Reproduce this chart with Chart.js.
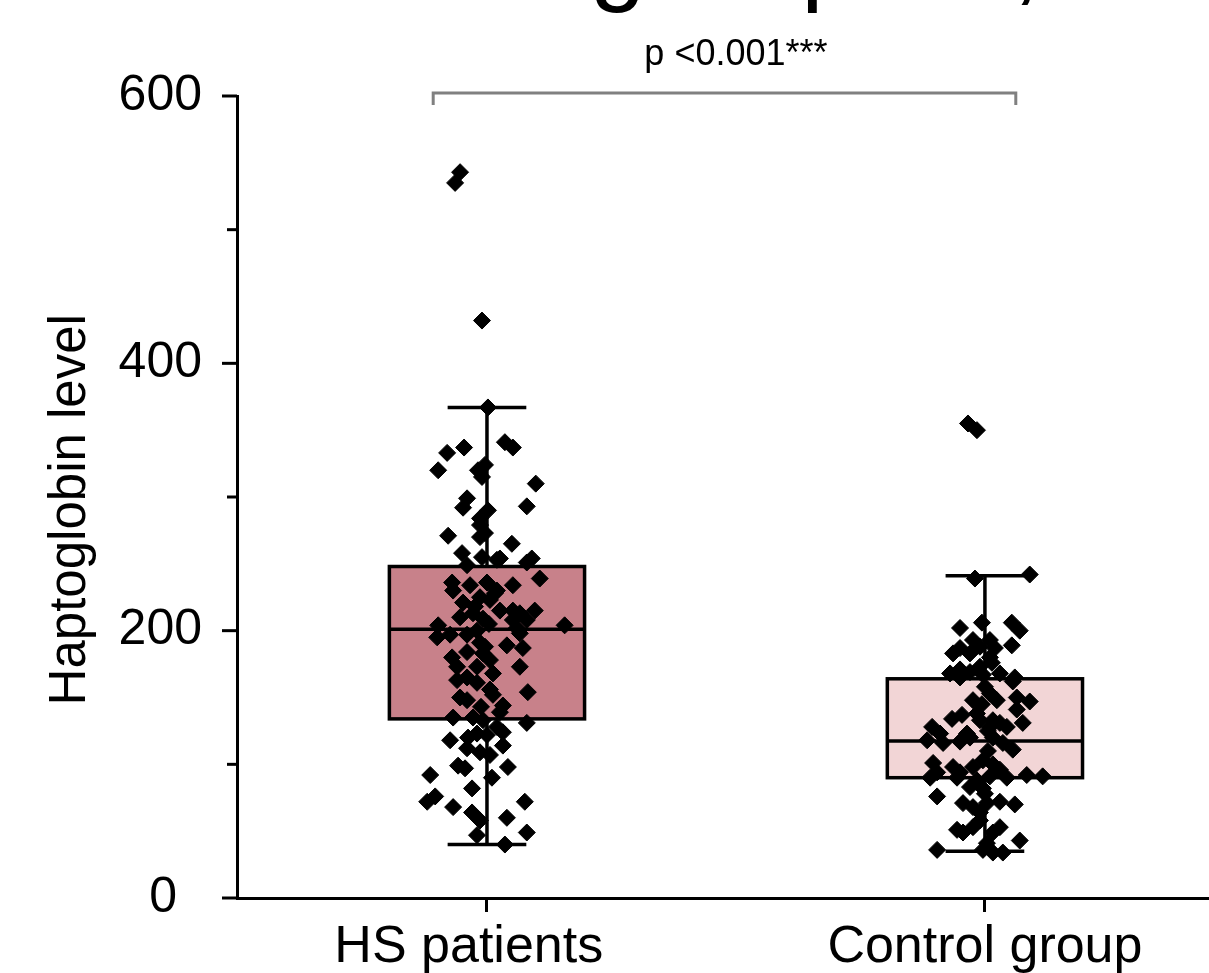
<!DOCTYPE html>
<html>
<head>
<meta charset="utf-8">
<script src="https://cdn.jsdelivr.net/npm/chart.js@4.4.1/dist/chart.umd.min.js"></script>
<style>
  html, body { margin: 0; padding: 0; background: #fff; overflow: hidden; }
  #wrap { width: 1209px; height: 973px; position: relative; }
</style>
</head>
<body>
<div id="wrap"><canvas id="chart"></canvas></div>
<script>
const categories = ["HS patients", "Control group"];
const groupPos = [1, 2];
const yTicks = [0, 200, 400, 600];
const yMinorTicks = [100, 300, 500];

// min, q1, median, q3, max
const hsBox = [40, 134, 201, 248, 367];
const ctrlBox = [35, 90, 117.5, 164, 241];

const hsValues = [
  543, 535, 432, 367, 341, 337, 333, 337, 320, 320,
  324, 315, 310, 299, 292, 293, 290, 284, 279, 271,
  270, 273, 265, 258, 255, 253, 254, 254, 249, 251,
  239, 236, 230, 234, 236, 230, 234, 221, 225, 223,
  215, 215, 213, 215, 210, 213, 209, 208, 208, 204,
  195, 204, 197, 197, 200, 202, 198, 189, 187, 191,
  183, 180, 184, 173, 178, 173, 173, 165, 161, 163,
  156, 152, 154, 150, 148, 144, 139, 135, 135, 133,
  131, 128, 118, 120, 123, 122, 124, 112, 109, 114,
  107, 99, 97, 98, 92, 90, 82, 76, 72, 68,
  72, 64, 58, 60, 49, 47, 40, 205, 188, 168,
  143, 228, 218
];
const hsJitter = [
  -0.054, -0.064, -0.010, 0.002, 0.036, 0.052, -0.080, -0.046, -0.098, -0.018,
  -0.004, -0.010, 0.098, -0.040, -0.048, 0.080, 0.002, -0.014, -0.014, -0.078,
  -0.014, -0.004, 0.050, -0.050, -0.010, 0.020, 0.026, 0.090, -0.040, 0.080,
  0.106, -0.070, -0.068, -0.034, 0.000, 0.020, 0.052, -0.048, -0.014, 0.006,
  0.026, 0.052, 0.066, 0.096, -0.054, -0.028, -0.008, 0.052, 0.080, -0.098,
  -0.100, 0.156, -0.074, -0.040, -0.020, 0.060, 0.066, 0.040, 0.072, -0.014,
  -0.008, -0.070, -0.040, -0.060, 0.006, -0.020, 0.066, -0.040, -0.020, -0.060,
  0.006, 0.012, 0.082, -0.054, -0.040, 0.032, 0.026, -0.068, -0.028, -0.008,
  0.080, 0.020, -0.074, -0.038, -0.020, 0.000, 0.032, -0.040, -0.014, 0.032,
  0.006, -0.058, -0.044, 0.042, -0.114, 0.010, -0.030, -0.104, -0.120, -0.068,
  0.076, -0.030, -0.014, 0.040, 0.080, -0.020, 0.036, 0.004, -0.004, 0.012,
  -0.012, 0.016, -0.024
];

const ctrlValues = [
  355, 350, 239, 242, 202, 206, 206, 200, 183, 187,
  193, 188, 193, 187, 189, 183, 180, 168, 171, 169,
  173, 176, 168, 165, 165, 167, 162, 148, 153, 148,
  150, 147, 141, 134, 137, 138, 133, 133, 128, 131,
  128, 131, 128, 123, 123, 118, 116, 117, 120, 120,
  116, 111, 101, 94, 98, 94, 98, 103, 100, 96,
  90, 90, 88, 91, 90, 92, 91, 83, 82, 76,
  71, 68, 71, 72, 70, 64, 51, 49, 53, 53,
  49, 43, 36, 36, 34, 34, 41, 158, 145, 110,
  78, 58, 125
];
const ctrlJitter = [
  -0.034, -0.016, -0.020, 0.090, -0.050, -0.006, 0.054, 0.070, -0.064, -0.050,
  -0.024, -0.010, 0.010, 0.020, 0.054, -0.030, 0.010, -0.070, -0.050, -0.030,
  -0.010, 0.014, 0.030, 0.060, -0.050, -0.004, 0.056, -0.024, 0.010, 0.024,
  0.064, 0.090, 0.064, -0.066, -0.046, -0.016, -0.010, 0.016, 0.010, 0.030,
  0.044, 0.076, -0.106, -0.090, -0.036, -0.116, -0.084, -0.050, -0.030, 0.016,
  0.036, 0.056, -0.104, -0.096, -0.064, -0.050, -0.024, -0.004, 0.016, 0.030,
  -0.110, -0.056, -0.016, 0.010, 0.044, 0.084, 0.116, -0.030, -0.004, -0.096,
  -0.044, -0.024, 0.004, 0.030, 0.060, -0.010, -0.056, -0.044, -0.024, 0.030,
  0.016, 0.070, -0.096, -0.004, 0.016, 0.036, 0.004, 0.000, -0.006, 0.006,
  0.000, -0.010, 0.006
];

const pLabel = "p <0.001***";
const titleText = "Levels among all plots,";

const FONT = "'Liberation Sans', Arial, Helvetica, sans-serif";
const boxColors = ["#c8818a", "#f2d5d6"];

const boxPlugin = {
  id: "boxes",
  beforeDatasetsDraw(chart) {
    const { ctx, scales: { x, y } } = chart;
    [hsBox, ctrlBox].forEach((stats, i) => {
      const cx = x.getPixelForValue(groupPos[i]);
      const half = x.getPixelForValue(groupPos[i] + 0.196) - cx;
      const cap = x.getPixelForValue(groupPos[i] + 0.079) - cx;
      const [mn, q1, med, q3, mx] = stats.map(v => y.getPixelForValue(v));
      ctx.save();
      ctx.strokeStyle = "#000";
      ctx.lineWidth = 3.5;
      ctx.beginPath();
      ctx.moveTo(cx, q3); ctx.lineTo(cx, mx);
      ctx.moveTo(cx - cap, mx); ctx.lineTo(cx + cap, mx);
      ctx.moveTo(cx, q1); ctx.lineTo(cx, mn);
      ctx.moveTo(cx - cap, mn); ctx.lineTo(cx + cap, mn);
      ctx.stroke();
      ctx.fillStyle = boxColors[i];
      ctx.fillRect(cx - half, q3, half * 2, q1 - q3);
      ctx.strokeRect(cx - half, q3, half * 2, q1 - q3);
      ctx.beginPath();
      ctx.moveTo(cx - half, med); ctx.lineTo(cx + half, med);
      ctx.stroke();
      ctx.restore();
    });
  }
};

const extrasPlugin = {
  id: "extras",
  afterDraw(chart) {
    const { ctx, scales: { x, y } } = chart;
    ctx.save();
    // y tick marks, short ones in between
    ctx.strokeStyle = "#000";
    ctx.lineWidth = 3;
    yTicks.concat(yMinorTicks).forEach(v => {
      const py = y.getPixelForValue(v);
      const len = yTicks.includes(v) ? 15 : 10;
      ctx.beginPath();
      ctx.moveTo(y.right - len, py);
      ctx.lineTo(y.right, py);
      ctx.stroke();
    });

    // significance bracket
    const x1 = x.getPixelForValue(0.892);
    const x2 = x.getPixelForValue(2.062);
    const by = y.getPixelForValue(600) - 3;
    ctx.strokeStyle = "#808080";
    ctx.beginPath();
    ctx.moveTo(x1, by + 12); ctx.lineTo(x1, by);
    ctx.lineTo(x2, by); ctx.lineTo(x2, by + 12);
    ctx.stroke();

    ctx.fillStyle = "#000";
    ctx.textAlign = "center";
    ctx.textBaseline = "alphabetic";
    ctx.font = "36px " + FONT;
    ctx.fillText(pLabel, x.getPixelForValue(1.5), 65);

    // title line, mostly cut off at the top edge
    ctx.font = "100px " + FONT;
    ctx.textAlign = "left";
    const pre = ctx.measureText(titleText.slice(0, titleText.indexOf("g"))).width;
    ctx.fillText(titleText, 590 - pre, -8);
    ctx.restore();
  }
};

const pointStyle = {
  pointStyle: "rectRot",
  pointRadius: 8.5,
  pointHoverRadius: 8.5,
  backgroundColor: "#000",
  borderColor: "#000",
  borderWidth: 1
};

Chart.defaults.font.family = FONT;
Chart.defaults.color = "#000";

new Chart(document.getElementById("chart"), {
  type: "scatter",
  data: {
    datasets: [
      {
        label: categories[0],
        data: hsValues.map((v, i) => ({ x: groupPos[0] + hsJitter[i], y: v })),
        ...pointStyle
      },
      {
        label: categories[1],
        data: ctrlValues.map((v, i) => ({ x: groupPos[1] + ctrlJitter[i], y: v })),
        ...pointStyle
      }
    ]
  },
  options: {
    responsive: true,
    maintainAspectRatio: false,
    animation: false,
    layout: { autoPadding: false, padding: { top: 96, right: 0, bottom: 0, left: 0 } },
    plugins: { legend: { display: false }, tooltip: { enabled: false } },
    scales: {
      x: {
        type: "linear",
        min: 0.498,
        max: 2.45,
        afterBuildTicks: s => { s.ticks = groupPos.map(v => ({ value: v })); },
        afterFit: s => { s.height = 75; },
        ticks: {
          // first label sits a little left of its tick in the original
          callback: v => (v === groupPos[0] ? categories[0] + "\u2002\u2009" : categories[groupPos.indexOf(v)]),
          font: { size: 52 },
          padding: 4,
          maxRotation: 0,
          autoSkip: false
        },
        grid: { drawOnChartArea: false, drawTicks: true, tickLength: 14, tickWidth: 3, tickColor: "#000" },
        border: { color: "#000", width: 3 }
      },
      y: {
        min: 0,
        max: 600,
        afterBuildTicks: s => { s.ticks = yTicks.map(v => ({ value: v })); },
        afterFit: s => { s.width = 237; },
        ticks: {
          font: { size: 50 },
          padding: 35,
          callback: v => (v === 0 ? "0\u2002" : String(v))
        },
        grid: { display: false, drawTicks: false },
        border: { color: "#000", width: 3 },
        title: {
          display: true,
          text: "Haptoglobin level\u2002",
          font: { size: 51 },
          padding: { top: 40, bottom: 0 }
        }
      }
    }
  },
  plugins: [boxPlugin, extrasPlugin]
});
</script>
</body>
</html>
